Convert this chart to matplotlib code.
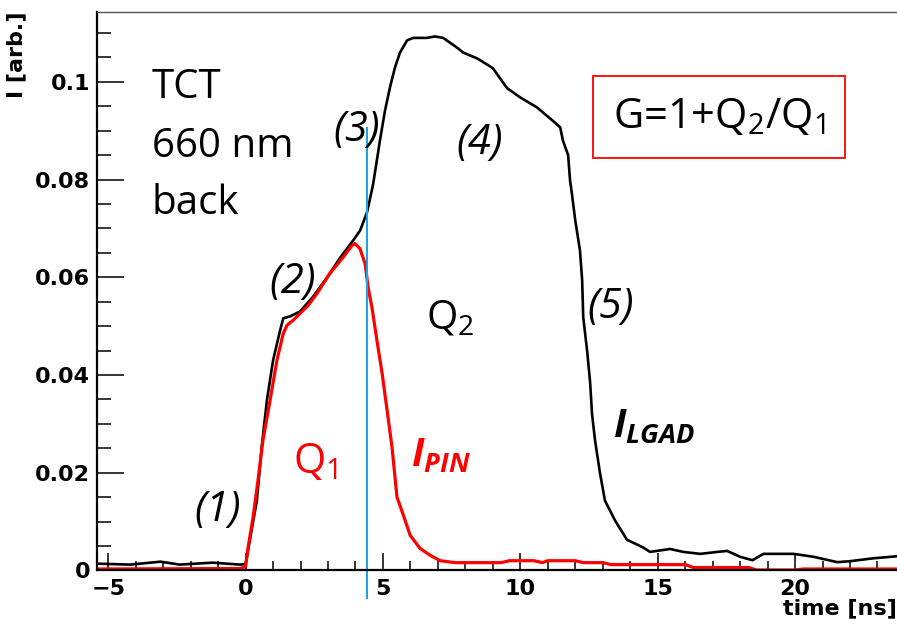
import matplotlib.pyplot as plt
from matplotlib.ticker import MultipleLocator

plt.rcParams['mathtext.fontset'] = 'custom'
plt.rcParams['mathtext.rm'] = 'Open Sans'
plt.rcParams['mathtext.it'] = 'Open Sans:italic'
plt.rcParams['mathtext.bf'] = 'Open Sans:italic:bold'

# I_LGAD (black)
t_lgad = [-5.41, -4.2, -3.1, -2.4, -1.2, -0.2, 0.0, 0.41, 0.6, 0.78, 1.0, 1.25, 1.37, 1.62,
          1.98, 2.45, 2.97, 3.44, 3.91, 4.17, 4.42, 4.64, 4.78, 4.89, 5.07, 5.26, 5.44, 5.62,
          5.88, 6.1, 6.6, 6.9, 7.19, 7.7, 7.92, 8.43, 9.0, 9.52, 10.0, 10.6, 11.19, 11.45,
          11.55, 11.74, 11.81, 11.88, 11.99, 12.17, 12.25, 12.29, 12.43, 12.54, 12.61, 12.72,
          12.9, 13.08, 13.45, 13.88, 14.47, 14.72, 15.09, 15.45, 15.93, 16.55, 17.17, 17.53,
          18.0, 18.45, 18.85, 19.94, 20.67, 21.54, 22.0, 22.86, 23.7]
i_lgad = [0.0014, 0.0012, 0.0018, 0.0012, 0.0016, 0.0012, 0.0013, 0.0143, 0.026, 0.035, 0.043,
          0.049, 0.0516, 0.052, 0.053, 0.056, 0.060, 0.064, 0.0675, 0.0696, 0.0733, 0.079, 0.084,
          0.088, 0.094, 0.099, 0.103, 0.106, 0.1085, 0.109, 0.109, 0.1093, 0.109, 0.107, 0.106,
          0.1048, 0.1028, 0.0987, 0.0968, 0.0948, 0.092, 0.0907, 0.088, 0.085, 0.0798, 0.077,
          0.072, 0.0655, 0.0594, 0.0518, 0.045, 0.0385, 0.032, 0.0266, 0.0199, 0.0143, 0.0102,
          0.0063, 0.0047, 0.0038, 0.0041, 0.0044, 0.0038, 0.0034, 0.0038, 0.0040, 0.0028, 0.0021,
          0.0034, 0.0034, 0.0028, 0.0017, 0.0019, 0.0025, 0.0029]

# I_PIN (red)
t_pin = [-5.41, -0.2, 0.0, 0.09, 0.27, 0.45, 0.63, 0.89, 1.14, 1.37, 1.51, 1.73, 1.98, 2.27,
         2.6, 3.07, 3.55, 3.87, 3.98, 4.16, 4.35, 4.46, 4.6, 4.78, 4.97, 5.15, 5.33, 5.51, 5.62,
         5.81, 5.99, 6.35, 6.72, 7.08, 7.63, 9.3, 9.6, 10.5, 10.8, 11.0, 12.0, 12.3, 13.0,
         13.3, 16.0, 16.3, 18.3, 18.6, 20.0, 20.3, 23.7]
i_pin = [0.0003, 0.0004, 0.0008, 0.0047, 0.0108, 0.0184, 0.0266, 0.0348, 0.043, 0.0485, 0.0502,
         0.0512, 0.0526, 0.0542, 0.0567, 0.0608, 0.0641, 0.0665, 0.0669, 0.0659, 0.0628, 0.0579,
         0.0538, 0.0471, 0.0403, 0.0328, 0.0252, 0.015, 0.0133, 0.0102, 0.0072, 0.0045, 0.0031,
         0.002, 0.0016, 0.0016, 0.002, 0.002, 0.0016, 0.002, 0.002, 0.0016, 0.0016, 0.0012,
         0.0012, 0.0006, 0.0006, 0.0001, 0.0001, 0.0003, 0.0003]

t_split = 4.41
xlim = (-5.41, 23.71)
ylim = (0, 0.1143)

fig = plt.figure(figsize=(8.97, 6.28), dpi=100)
ax = fig.add_axes([0.1081, 0.0916, 1 - 0.1081, 0.9809 - 0.0916])

ax.plot(t_lgad, i_lgad, color='black', lw=1.9)
ax.plot(t_pin, i_pin, color='#ff0000', lw=2.3)
ax.plot([t_split, t_split], [-0.0056, 0.0905], color='#1ea4dc', lw=1.5, clip_on=False)

ax.set_xlim(*xlim)
ax.set_ylim(*ylim)
ax.xaxis.set_major_locator(MultipleLocator(5))
ax.xaxis.set_minor_locator(MultipleLocator(1))
ax.yaxis.set_major_locator(MultipleLocator(0.02))
ax.yaxis.set_minor_locator(MultipleLocator(0.005))
ax.yaxis.set_major_formatter(plt.FuncFormatter(lambda v, p: '0' if abs(v) < 1e-9 else f'{v:g}'))

tick_font = dict(family='DejaVu Sans', weight='bold', size=16)
ax.tick_params(axis='both', which='both', direction='in', top=False, right=False, width=1.1)
ax.tick_params(axis='y', which='major', length=19.5, pad=5)
ax.tick_params(axis='y', which='minor', length=10)
ax.tick_params(axis='x', which='major', length=12, pad=6)
ax.tick_params(axis='x', which='minor', length=6.5)
for lab in ax.get_xticklabels() + ax.get_yticklabels():
    lab.set_fontproperties(tick_font)

ax.spines['right'].set_visible(False)
ax.spines['top'].set_color('#555555')
ax.spines['top'].set_linewidth(1.0)
ax.spines['left'].set_linewidth(1.6)
ax.spines['bottom'].set_linewidth(1.6)

ax.set_xlabel('time [ns]', loc='right', fontdict=tick_font, labelpad=0)
ax.set_ylabel('I [arb.]', loc='top', fontdict=tick_font, labelpad=6)

txt = dict(family='Open Sans', size=29)
ax.text(-3.41, 0.0968, 'TCT', **txt)
ax.text(-3.41, 0.0846, '660 nm', **txt)
ax.text(-3.41, 0.0729, 'back', **txt)

num = dict(family='Open Sans', style='italic', size=30, ha='center', va='center')
ax.text(-1.0, 0.0124, '(1)', **num)
ax.text(1.73, 0.059, '(2)', **num)
ax.text(4.05, 0.0901, '(3)', **num)
ax.text(8.53, 0.0875, '(4)', **num)
ax.text(13.3, 0.0539, '(5)', **num)

ax.text(7.44, 0.0515, 'Q$_2$', family='Open Sans', size=29, ha='center', va='center')
ax.text(2.53, 0.0221, 'Q$_1$', family='Open Sans', size=30, color='#ff0000', ha='center', va='center')
ax.text(7.11, 0.0234, r'$\mathbf{I}_{\mathbf{PIN}}$', size=28, color='#ff0000', ha='center', va='center')
ax.text(14.87, 0.0294, r'$\mathbf{I}_{\mathbf{LGAD}}$', size=28, color='black', ha='center', va='center')

ax.text(17.24, 0.0928, 'G=1+Q$_2$/Q$_1$', family='Open Sans', size=30, ha='center', va='center',
        bbox=dict(boxstyle='square,pad=0.47', fc='white', ec='#ff0000', lw=1.3))

fig.savefig('out.png', dpi=100)
